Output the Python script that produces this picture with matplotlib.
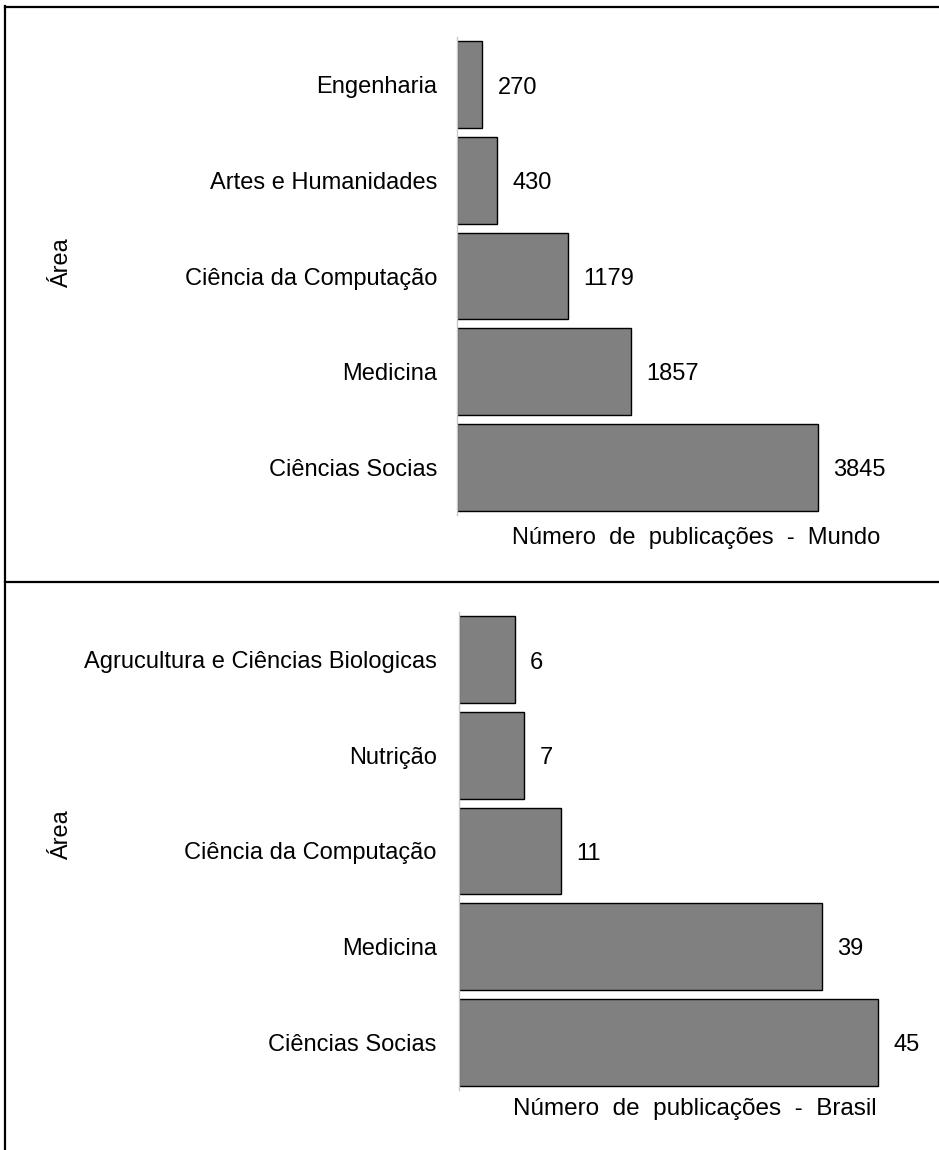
import matplotlib.pyplot as plt
from matplotlib.lines import Line2D

plt.rcParams['font.family'] = ['Liberation Sans', 'DejaVu Sans']

# publicações por área (de baixo para cima)
areas_mundo = ["Ciências Socias", "Medicina", "Ciência da Computação",
               "Artes e Humanidades", "Engenharia"]
pubs_mundo = [3845, 1857, 1179, 430, 270]

areas_brasil = ["Ciências Socias", "Medicina", "Ciência da Computação",
                "Nutrição", "Agrucultura e Ciências Biologicas"]
pubs_brasil = [45, 39, 11, 7, 6]

W, H = 939, 1150
fig = plt.figure(figsize=(W / 100, H / 100), dpi=100)


def px_axes(x0, y0, x1, y1):
    # posição em pixels (origem no canto superior esquerdo)
    return fig.add_axes([x0 / W, 1 - y1 / H, (x1 - x0) / W, (y1 - y0) / H])


def barras(ax, nomes, valores, xmax, pad):
    pos = list(range(len(valores)))
    ax.barh(pos, valores, height=0.91, color="#808080",
            edgecolor="black", linewidth=1.0)
    for p, v in zip(pos, valores):
        ax.annotate(str(v), (v, p), xytext=(11, -2), textcoords="offset points",
                    ha="left", va="center", fontsize=17)
    ax.set_yticks(pos)
    ax.set_yticklabels(nomes, fontsize=17)
    ax.tick_params(axis="y", length=0, pad=pad)
    ax.set_xticks([])
    ax.set_xlim(0, xmax)
    ax.set_ylim(-0.5, len(valores) - 0.5)
    for s in ["top", "right", "bottom"]:
        ax.spines[s].set_visible(False)
    ax.spines["left"].set_color("#c8c8c8")
    ax.spines["left"].set_linewidth(1.0)


ax1 = px_axes(457, 37, 920, 515)
barras(ax1, areas_mundo, pubs_mundo, 4930, 14)
ax2 = px_axes(459, 612, 920, 1090)
barras(ax2, areas_brasil, pubs_brasil, 49.5, 16)

fig.text(696 / W, 1 - 538 / H, "Número  de  publicações  -  Mundo",
         ha="center", va="center", fontsize=17)
fig.text(695 / W, 1 - 1109 / H, "Número  de  publicações  -  Brasil",
         ha="center", va="center", fontsize=17.5)
fig.text(62 / W, 1 - 263 / H, "Área", rotation=90,
         ha="center", va="center", fontsize=17)
fig.text(62 / W, 1 - 835 / H, "Área", rotation=90,
         ha="center", va="center", fontsize=17)

# molduras dos dois painéis
for (xa, ya, xb, yb) in [(5, 6, 5, H), (5, 6.5, W, 6.5), (5, 582, W, 582)]:
    fig.add_artist(Line2D([xa / W, xb / W], [1 - ya / H, 1 - yb / H],
                          transform=fig.transFigure, color="black", lw=1.6))

fig.savefig("out.png", dpi=100)
